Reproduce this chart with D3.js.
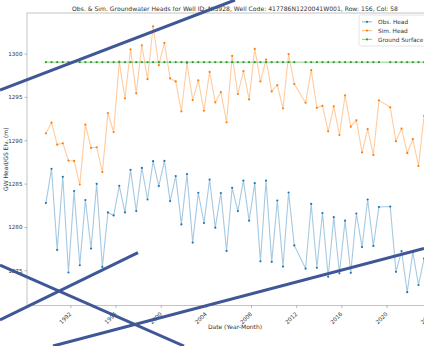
<!DOCTYPE html>
<html>
<head>
<meta charset="utf-8">
<script src="https://cdn.jsdelivr.net/npm/d3@7"></script>
<style>
  html, body { margin: 0; padding: 0; background: #fff; }
  svg { display: block; font-family: "DejaVu Sans", sans-serif; }
</style>
</head>
<body>
<svg id="chart" width="424" height="346"></svg>
<script>
// Sampling dates (spring / fall measurements)
const dates = [
  "1989-11","1990-05","1990-11","1991-05","1991-11","1992-05","1992-11","1993-05","1993-11","1994-05",
  "1994-11","1995-05","1995-11","1996-05","1996-11","1997-05","1997-11","1998-05","1998-11","1999-05",
  "1999-11","2000-05","2000-11","2001-05","2001-11","2002-05","2002-11","2003-05","2003-11","2004-05",
  "2004-11","2005-05","2005-11","2006-05","2006-11","2007-05","2007-11","2008-05","2008-11","2009-05",
  "2009-11","2010-05","2010-11","2011-05","2011-11","2012-11","2013-05","2013-11","2014-05","2014-11",
  "2015-05","2015-11","2016-05","2016-11","2017-05","2017-11","2018-05","2018-11","2019-05","2020-05",
  "2020-11","2021-05","2021-11","2022-05","2022-11","2023-05"
];

// Observed groundwater head (m)
const obsHead = [
  1282.75,1286.70,1277.35,1285.78,1274.74,1284.13,1275.58,1283.10,1277.50,1284.97,
  1275.39,1281.67,1281.33,1284.74,1281.67,1286.58,1281.83,1286.81,1283.16,1287.58,
  1284.71,1287.61,1282.98,1285.86,1280.29,1286.09,1278.19,1283.94,1280.45,1285.46,
  1279.91,1283.90,1277.23,1284.51,1281.83,1285.35,1280.72,1285.05,1276.03,1285.35,
  1275.97,1283.05,1275.43,1283.97,1277.87,1275.20,1282.65,1275.29,1281.60,1274.25,
  1281.12,1274.65,1280.72,1274.71,1281.55,1277.67,1283.16,1277.81,1282.29,1282.35,
  1274.82,1277.21,1272.47,1277.09,1273.30,1276.35
];

// Simulated groundwater head (m)
const simHead = [
  1290.80,1292.02,1289.49,1289.65,1287.65,1287.61,1284.89,1291.79,1289.11,1289.19,
  1286.32,1293.13,1290.95,1299.06,1294.83,1300.47,1295.41,1300.95,1297.04,1303.14,
  1298.65,1301.22,1297.13,1296.78,1293.33,1298.88,1294.63,1296.90,1293.40,1297.88,
  1294.37,1295.55,1292.07,1299.72,1295.32,1297.96,1294.71,1300.53,1296.78,1299.31,
  1295.63,1296.35,1293.68,1299.92,1296.47,1294.32,1298.08,1293.74,1293.97,1291.03,
  1293.91,1290.60,1295.17,1291.56,1292.30,1288.59,1291.27,1288.30,1294.60,1293.79,
  1289.89,1291.34,1288.53,1290.12,1287.04,1292.82
];

// Land surface elevation at the well (m)
const groundSurface = 1299.0;

const yTickValues = [1275, 1280, 1285, 1290, 1295, 1300];
const xTickYears = [1992, 1996, 2000, 2004, 2008, 2012, 2016, 2020, 2024];

const seriesNames = ["Obs. Head", "Sim. Head", "Ground Surface"];
const seriesColors = ["#1f77b4", "#ff7f0e", "#2ca02c"];

const titleText = "Obs. & Sim. Groundwater Heads for Well ID: NI5928, Well Code: 417786N1220041W001, Row: 156, Col: 58";

// Decorative strokes laid over the figure (pixel space)
const overlayStrokes = [
  [[0, 90], [235, 0]],
  [[0, 265], [184, 346]],
  [[0, 320], [138, 252.7]],
  [[53, 346], [424, 248.5]]
];

// ---- layout ----
const plot = { left: 27, right: 443, top: 13, bottom: 305.5 };

const parse = d3.timeParse("%Y-%m");
const rows = dates.map((d, i) => ({
  date: parse(d),
  obs: obsHead[i],
  sim: simHead[i],
  gs: groundSurface
}));

// 5% padding on each side of the data extent
function padded(ext) {
  const span = ext[1] - ext[0];
  return [ext[0] - span * 0.05, ext[1] + span * 0.05];
}
const tExt = d3.extent(rows, r => +r.date);
const tDom = padded(tExt);
const x = d3.scaleTime()
  .domain([new Date(tDom[0]), new Date(tDom[1])])
  .range([plot.left, plot.right]);

const allVals = obsHead.concat(simHead, [groundSurface]);
const y = d3.scaleLinear()
  .domain(padded(d3.extent(allVals)))
  .range([plot.bottom, plot.top]);

const svg = d3.select("#chart");

// clip for data marks
svg.append("defs").append("clipPath").attr("id", "plotClip")
  .append("rect")
  .attr("x", plot.left).attr("y", plot.top)
  .attr("width", plot.right - plot.left)
  .attr("height", plot.bottom - plot.top);

// frame
const spineColor = "#c4c4c4";
svg.append("rect")
  .attr("x", plot.left).attr("y", plot.top)
  .attr("width", plot.right - plot.left)
  .attr("height", plot.bottom - plot.top)
  .attr("fill", "none")
  .attr("stroke", spineColor)
  .attr("stroke-width", 1);

// y axis
const yAxis = d3.axisLeft(y).tickValues(yTickValues).tickSize(2.5).tickPadding(2).tickFormat(d3.format("d"));
const gy = svg.append("g").attr("transform", `translate(${plot.left},0)`).call(yAxis);
gy.select(".domain").remove();
gy.selectAll(".tick line").attr("stroke", "#888").attr("stroke-width", 0.6);
gy.selectAll(".tick text").attr("font-size", 5.6).attr("fill", "#333").attr("font-family", "DejaVu Sans");

// x axis
const xTicks = xTickYears.map(yr => new Date(yr, 0, 1));
const xAxis = d3.axisBottom(x).tickValues(xTicks).tickSize(2.5).tickFormat(d3.timeFormat("%Y"));
const gx = svg.append("g").attr("transform", `translate(0,${plot.bottom})`).call(xAxis);
gx.select(".domain").remove();
gx.selectAll(".tick line").attr("stroke", "#888").attr("stroke-width", 0.6);
gx.selectAll(".tick text")
  .attr("font-size", 5.6).attr("fill", "#333").attr("font-family", "DejaVu Sans")
  .attr("text-anchor", "end")
  .attr("dy", 0)
  .attr("y", 0)
  .attr("transform", "translate(1,9) rotate(-45)");

// axis labels & title
svg.append("text")
  .attr("x", (plot.left + plot.right) / 2).attr("y", 329)
  .attr("text-anchor", "middle").attr("font-size", 6).attr("fill", "#333")
  .text("Date (Year-Month)");
svg.append("text")
  .attr("transform", `translate(8,${(plot.top + plot.bottom) / 2}) rotate(-90)`)
  .attr("text-anchor", "middle").attr("font-size", 6).attr("fill", "#333")
  .text("GW Head/GS Elv. (m)");
svg.append("text")
  .attr("x", (plot.left + plot.right) / 2).attr("y", 11)
  .attr("text-anchor", "middle").attr("font-size", 6.1).attr("fill", "#333")
  .text(titleText);

// series
const keys = ["obs", "sim", "gs"];
const gData = svg.append("g").attr("clip-path", "url(#plotClip)");
keys.forEach((k, i) => {
  const line = d3.line().x(r => x(r.date)).y(r => y(r[k]));
  gData.append("path")
    .datum(rows)
    .attr("d", line)
    .attr("fill", "none")
    .attr("stroke", seriesColors[i])
    .attr("stroke-opacity", k === "gs" ? 0.35 : 0.4)
    .attr("stroke-width", k === "gs" ? 1.6 : 1.1);
  gData.selectAll(null).data(rows).enter().append("circle")
    .attr("cx", r => x(r.date)).attr("cy", r => y(r[k]))
    .attr("r", 1.1)
    .attr("fill", seriesColors[i]);
});

// legend
const lg = svg.append("g").attr("transform", "translate(359,15)");
lg.append("rect")
  .attr("x", 0).attr("y", 0).attr("width", 80).attr("height", 31)
  .attr("rx", 1.5)
  .attr("fill", "#fff").attr("fill-opacity", 0.85)
  .attr("stroke", "#ddd").attr("stroke-width", 0.8);
seriesNames.forEach((name, i) => {
  const yy = 6.8 + i * 8.8;
  lg.append("line")
    .attr("x1", 3).attr("x2", 13).attr("y1", yy).attr("y2", yy)
    .attr("stroke", seriesColors[i]).attr("stroke-opacity", 0.5).attr("stroke-width", 1.1);
  lg.append("circle").attr("cx", 8).attr("cy", yy).attr("r", 1.1).attr("fill", seriesColors[i]);
  lg.append("text")
    .attr("x", 19).attr("y", yy + 2.1)
    .attr("font-size", 5.8).attr("fill", "#333")
    .text(name);
});

// overlay strokes
svg.append("g").selectAll("line").data(overlayStrokes).enter().append("line")
  .attr("x1", d => d[0][0]).attr("y1", d => d[0][1])
  .attr("x2", d => d[1][0]).attr("y2", d => d[1][1])
  .attr("stroke", "#3f5797").attr("stroke-width", 3)
  .attr("stroke-linecap", "butt");
</script>
</body>
</html>
